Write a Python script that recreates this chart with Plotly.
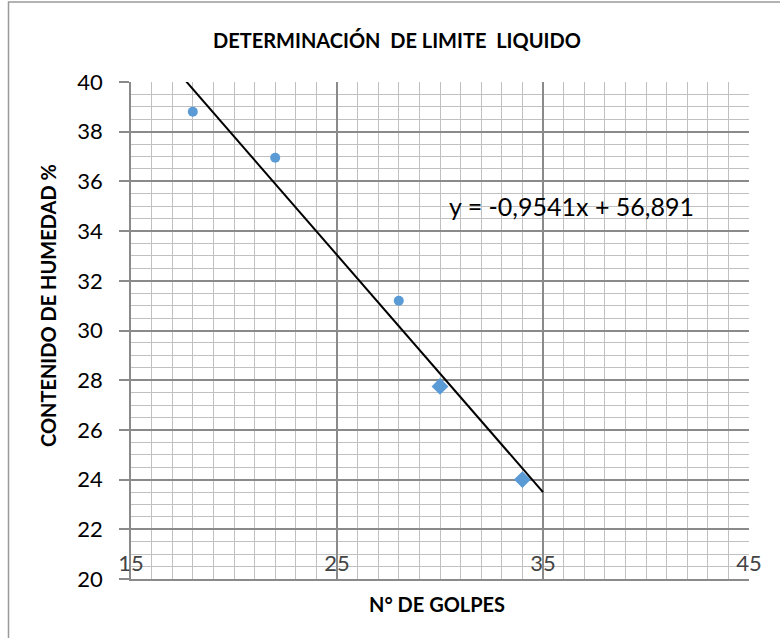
import plotly.graph_objects as go

# Data
golpes_circ = [18, 22, 28]
humedad_circ = [38.8, 36.95, 31.2]
golpes_diam = [30, 34]
humedad_diam = [27.75, 24.0]

slope = -0.9541
intercept = 56.891
trend_x = [15, 35]
trend_y = [slope * x + intercept for x in trend_x]

x_ticks = [15, 25, 35, 45]
y_ticks = [20, 22, 24, 26, 28, 30, 32, 34, 36, 38, 40]

FONT = "Lato"
BLUE = "#5B9BD5"
MAJOR = "#8A8A8A"
MINOR = "#C0C0C0"

L, R, T, B = 131, 749, 81.7, 579.3
PW, PH = R - L, B - T


def px(xp):
    return (xp - L) / PW


def py(yp):
    return (B - yp) / PH


fig = go.Figure()
fig.add_trace(go.Scatter(x=golpes_circ, y=humedad_circ, mode="markers",
                         marker=dict(symbol="circle", size=10, color=BLUE),
                         showlegend=False))
fig.add_trace(go.Scatter(x=golpes_diam, y=humedad_diam, mode="markers",
                         marker=dict(symbol="diamond", size=13, color=BLUE),
                         showlegend=False))
fig.add_trace(go.Scatter(x=trend_x, y=trend_y, mode="lines",
                         line=dict(color="black", width=2),
                         showlegend=False))

fig.update_layout(
    width=780, height=638,
    margin=dict(l=L, r=780 - R, t=T, b=638 - B, autoexpand=False),
    paper_bgcolor="white", plot_bgcolor="white",
    font=dict(family=FONT, color="black"),
    xaxis=dict(range=[15, 45], tickvals=x_ticks, ticktext=[str(v) for v in x_ticks],
               showgrid=True, gridcolor=MAJOR, gridwidth=1.5,
               minor=dict(dtick=1, showgrid=True, gridcolor=MINOR, gridwidth=1.3),
               showline=True, linecolor=MAJOR, linewidth=1.5,
               ticks="", ticklabelposition="inside", ticklabeloverflow="allow",
               ticklabelstandoff=5,
               tickfont=dict(size=22, family=FONT),
               zeroline=False, fixedrange=True, automargin=False),
    yaxis=dict(range=[20, 40], tickvals=y_ticks,
               showgrid=True, gridcolor=MAJOR, gridwidth=1.5,
               minor=dict(dtick=0.5, showgrid=True, gridcolor=MINOR, gridwidth=1.3),
               showline=True, linecolor=MAJOR, linewidth=1.5,
               ticks="outside", ticklen=10, tickcolor=MAJOR, tickwidth=1.5,
               ticklabeloverflow="allow", ticklabelstandoff=12,
               tickfont=dict(size=22, family=FONT),
               zeroline=False, fixedrange=True, automargin=False),
    annotations=[
        dict(text="<b>DETERMINACIÓN&nbsp;&nbsp;DE LIMITE&nbsp;&nbsp;LIQUIDO</b>",
             xref="paper", yref="paper", x=px(397), y=py(40), showarrow=False,
             font=dict(size=20, family=FONT), xanchor="center", yanchor="middle"),
        dict(text="<b>N° DE GOLPES</b>", xref="paper", yref="paper",
             x=px(437), y=py(604), showarrow=False,
             font=dict(size=20, family=FONT), xanchor="center", yanchor="middle"),
        dict(text="<b>CONTENIDO DE HUMEDAD %</b>", xref="paper", yref="paper",
             x=px(48), y=py(306), showarrow=False, textangle=-90,
             font=dict(size=20, family=FONT), xanchor="center", yanchor="middle"),
        dict(text="y = -0,9541x + 56,891", xref="x", yref="y",
             x=36.4, y=35.0, showarrow=False,
             font=dict(size=25, family=FONT), xanchor="center", yanchor="middle"),
    ],
    shapes=[
        dict(type="rect", xref="paper", yref="paper",
             x0=px(8.5), x1=px(800), y0=py(660), y1=py(1.5),
             line=dict(color="#9A9A9A", width=1.5), fillcolor="rgba(0,0,0,0)", layer="below"),
    ],
)

fig.write_html("out.html", config={"displayModeBar": False},
               post_script="document.body.style.margin='0';")
